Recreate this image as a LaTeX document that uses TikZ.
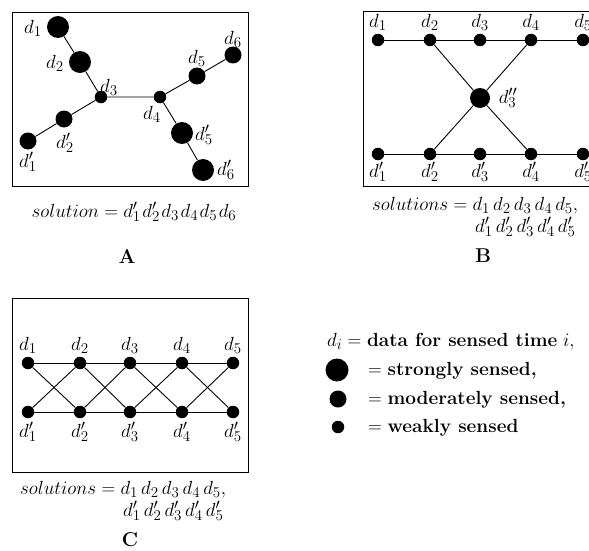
\RequirePackage{fix-cm}
\documentclass[tikz,border=0pt]{standalone}
\usepackage{fontspec}
\DeclareMathSizes{19}{19}{15}{11}
\newcommand{\gp}{\mskip3mu}
\newcommand{\gs}{\mskip1.5mu}
\begin{document}
\begin{tikzpicture}[x=1pt,y=-1pt,
  font=\fontsize{19}{23}\selectfont,
  big/.style={circle,fill=black,inner sep=0pt,minimum size=22pt},
  mid/.style={circle,fill=black,inner sep=0pt,minimum size=17pt},
  sml/.style={circle,fill=black,inner sep=0pt,minimum size=12.5pt},
  lnk/.style={line width=0.9pt},
  frame/.style={line width=0.9pt},
  lbl/.style={inner sep=0pt},
  panellabel/.style={inner sep=0pt,font=\fontsize{20}{24}\selectfont\bfseries}]
\useasboundingbox (0,0) rectangle (589,551);
\clip (0,0) rectangle (589,551);

% ---------------- A ----------------
\draw[frame] (12,12) rectangle (248,186);
\node[big] (a1) at (58,27) {};
\node[big] (a2) at (80,62) {};
\node[sml] (a3) at (101,97) {};
\node[sml] (a4) at (160,97) {};
\node[mid] (a5) at (197,76) {};
\node[mid] (a6) at (233,55) {};
\node[mid] (a2p) at (64,119) {};
\node[mid] (a1p) at (28,141) {};
\node[big] (a5p) at (182,133) {};
\node[big] (a6p) at (203,170) {};
\draw[lnk] (a1)--(a2)--(a3)--(a4)--(a5)--(a6);
\draw[lnk] (a3)--(a2p)--(a1p);
\draw[lnk] (a4)--(a5p)--(a6p);
\node[lbl] (la1) at (33,28) {$d_1$};
\node[lbl] (la2) at (55,63) {$d_2$};
\node[lbl] (la3) at (109,87) {$d_3$};
\node[lbl] (la4) at (152,114) {$d_4$};
\node[lbl] (la5) at (197,58) {$d_5$};
\node[lbl] (la6) at (233,39) {$d_6$};
\node[lbl] (la2p) at (65,143) {$d'_2$};
\node[lbl] (la1p) at (28,162) {$d'_1$};
\node[lbl] (la5p) at (204,135) {$d'_5$};
\node[lbl] (la6p) at (226,170) {$d'_6$};
\node[lbl] (solA) at (134,212) {$solution = d'_1\gs d'_2\gs d_3\gs d_4\gs d_5\gs d_6$};
\node[panellabel] (capA) at (127,256) {A};

% ---------------- B ----------------
\draw[frame] (363,11) rectangle (620,186);
\foreach \i/\x in {1/378,2/430,3/480,4/531,5/583}{
  \node[sml] (b\i) at (\x,40) {};
  \node[sml] (b\i p) at (\x,154) {};
  \node[lbl] (lb\i) at (\x,22) {$d_\i$};
  \node[lbl] (lb\i p) at (\x,172) {$d'_\i$};
}
\node[big,minimum size=20pt] (b3pp) at (480,98) {};
\node[lbl] (lb3pp) at (508,98) {$d''_3$};
\draw[lnk] (b1)--(b2)--(b3)--(b4)--(b5);
\draw[lnk] (b1p)--(b2p)--(b3p)--(b4p)--(b5p);
\draw[lnk] (b2)--(b3pp)--(b4p);
\draw[lnk] (b4)--(b3pp)--(b2p);
\node[lbl,anchor=base west] (solB1) at (372,210) {$solutions = d_1\gp d_2\gp d_3\gp d_4\gp d_5,$};
\node[lbl,anchor=base west] (solB2) at (475,232) {$d'_1\gp d'_2\gp d'_3\gp d'_4\gp d'_5$};
\node[panellabel] (capB) at (483,256) {B};

% ---------------- C ----------------
\draw[frame] (12,298) rectangle (248,472);
\foreach \i/\x in {1/28,2/80,3/130,4/182,5/233}{
  \node[sml] (c\i) at (\x,363) {};
  \node[sml] (c\i p) at (\x,412) {};
  \node[lbl] (lc\i) at (\x,345) {$d_\i$};
  \node[lbl] (lc\i p) at (\x,432) {$d'_\i$};
}
\draw[lnk] (c1)--(c2)--(c3)--(c4)--(c5);
\draw[lnk] (c1p)--(c2p)--(c3p)--(c4p)--(c5p);
\foreach \i/\j in {1/2,2/3,3/4,4/5}{
  \draw[lnk] (c\i)--(c\j p);
  \draw[lnk] (c\i p)--(c\j);
}
\node[lbl,anchor=base west] (solC1) at (20,494) {$solutions = d_1\gp d_2\gp d_3\gp d_4\gp d_5,$};
\node[lbl,anchor=base west] (solC2) at (123,516) {$d'_1\gp d'_2\gp d'_3\gp d'_4\gp d'_5$};
\node[panellabel] (capC) at (130,540) {C};

% ---------------- Legend ----------------
\node[lbl,anchor=base west] (leg0) at (327,346) {$d_i = $ \textbf{data for sensed time} $i,$};
\node[big,minimum size=23pt] (kb) at (337,370) {};
\node[mid] (km) at (338,399) {};
\node[sml] (ks) at (338,427) {};
\node[lbl,anchor=base west] (leg1) at (368,375) {$=$ \textbf{strongly sensed,}};
\node[lbl,anchor=base west] (leg2) at (368,404) {$=$ \textbf{moderately sensed,}};
\node[lbl,anchor=base west] (leg3) at (368,432) {$=$ \textbf{weakly sensed}};
\end{tikzpicture}
\end{document}
